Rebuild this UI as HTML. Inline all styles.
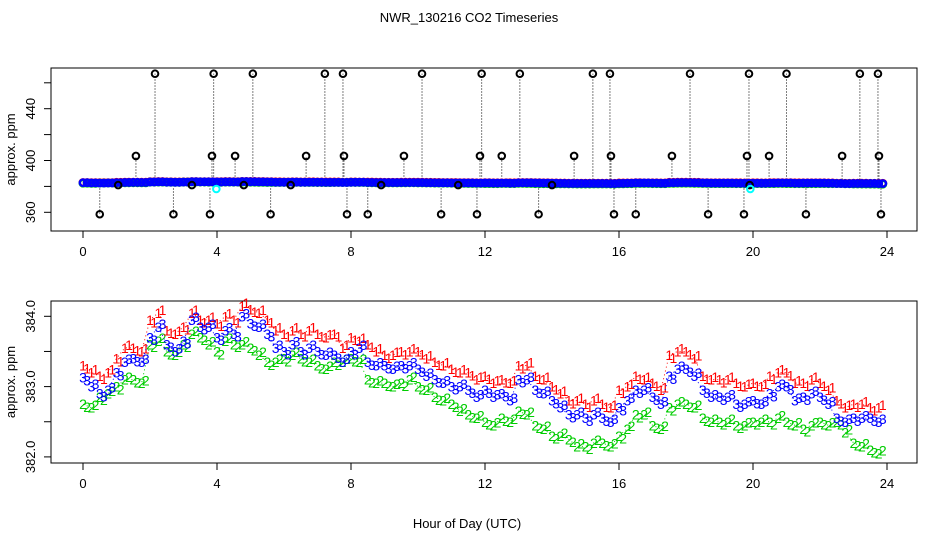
<!DOCTYPE html>
<html><head><meta charset="utf-8"><style>
html,body{margin:0;padding:0;background:#fff}
svg{display:block;font-family:"Liberation Sans",sans-serif}
</style></head><body>
<svg id="chart" width="936" height="540" viewBox="0 0 936 540">
<text x="469" y="22" text-anchor="middle" font-size="13">NWR_130216  CO2 Timeseries</text>
<text x="467" y="528" text-anchor="middle" font-size="13">Hour of Day (UTC)</text>
<g id="topPanel"></g>
<g id="botPanel"></g>
</svg>
<script>
const hours = [];
for (let i = 0; i < 96; i++) hours.push(i * 0.25);
const xTicks = [0, 4, 8, 12, 16, 20, 24];
const series3 = [383.13,383.0,382.9,382.95,383.2,383.35,383.4,383.35,383.7,383.85,383.6,383.5,383.65,383.95,383.85,383.85,383.7,383.8,383.75,384.0,383.9,383.85,383.75,383.55,383.5,383.6,383.5,383.55,383.5,383.45,383.45,383.35,383.5,383.55,383.35,383.3,383.3,383.25,383.3,383.3,383.25,383.15,383.1,383.05,383.0,383.0,382.95,382.85,382.95,382.85,382.9,382.8,383.1,383.1,382.95,382.9,382.8,382.7,382.6,382.6,382.55,382.6,382.55,382.5,382.7,382.8,382.95,382.95,382.85,382.75,383.15,383.25,383.25,383.15,382.95,382.85,382.85,382.85,382.75,382.75,382.8,382.75,382.9,383.0,383.0,382.8,382.85,382.9,382.85,382.75,382.55,382.5,382.55,382.55,382.55,382.5];
const series1 = [383.3,383.2,383.15,383.2,383.4,383.55,383.55,383.5,383.95,384.05,383.8,383.75,383.85,384.05,383.95,383.95,383.9,384.0,383.95,384.15,384.1,384.05,383.95,383.8,383.75,383.8,383.75,383.8,383.75,383.7,383.75,383.55,383.7,383.65,383.6,383.5,383.45,383.45,383.5,383.5,383.5,383.4,383.35,383.3,383.25,383.2,383.2,383.1,383.15,383.05,383.1,383.05,383.3,383.3,383.15,383.1,383.0,382.9,382.8,382.8,382.75,382.8,382.75,382.7,382.95,383.0,383.15,383.1,383.05,382.95,383.45,383.5,383.5,383.4,383.15,383.1,383.1,383.1,383.05,383.0,383.05,383.0,383.15,383.2,383.2,383.05,383.05,383.1,383.05,382.95,382.8,382.7,382.75,382.75,382.7,382.7];
const series2 = [382.75,382.7,382.85,382.9,383.0,383.1,383.1,383.05,383.6,383.65,383.5,383.45,383.6,383.75,383.7,383.6,383.5,383.65,383.6,383.6,383.55,383.45,383.35,383.35,383.4,383.45,383.4,383.35,383.3,383.25,383.35,383.35,383.4,383.35,383.1,383.05,383.05,383.0,383.05,383.1,383.0,382.95,382.85,382.8,382.75,382.65,382.6,382.55,382.5,382.45,382.55,382.5,382.65,382.6,382.45,382.4,382.3,382.3,382.25,382.15,382.15,382.2,382.2,382.15,382.3,382.4,382.6,382.6,382.45,382.4,382.7,382.75,382.75,382.7,382.55,382.5,382.5,382.5,382.45,382.45,382.5,382.5,382.5,382.55,382.5,382.45,382.4,382.45,382.5,382.45,382.5,382.35,382.2,382.15,382.1,382.05];
const outlierHours = [2.15,3.9,5.07,7.22,7.76,10.12,11.9,13.04,15.22,15.73,18.12,19.88,21.0,23.19,23.73,1.58,3.85,4.54,6.66,7.79,9.58,11.85,12.5,14.66,15.76,17.58,19.82,20.48,22.66,23.76,0.5,2.7,3.79,5.6,7.88,8.5,10.69,11.76,13.6,15.85,16.5,18.66,19.73,21.58,23.82,1.05,3.25,4.8,6.2,8.9,11.2,14.0,19.9];
const outlierValues = [467,467,467,467,467,467,467,467,467,467,467,467,467,467,467,403.5,403.5,403.5,403.5,403.5,403.5,403.5,403.5,403.5,403.5,403.5,403.5,403.5,403.5,403.5,358.5,358.5,358.5,358.5,358.5,358.5,358.5,358.5,358.5,358.5,358.5,358.5,358.5,358.5,358.5,381,381,381,381,381,381,381,381];
const topYTicks = [360,380,400,420,440,460];
const topYLabels = ["360","","400","","440",""];
const botYTicks = [382.0,382.5,383.0,383.5,384.0];
const botYLabels = ["382.0","","383.0","","384.0"];

const NS = "http://www.w3.org/2000/svg";
function mk(parent, tag, attrs, text) {
  const e = document.createElementNS(NS, tag);
  for (const k in attrs) e.setAttribute(k, attrs[k]);
  if (text !== undefined) e.textContent = text;
  parent.appendChild(e);
  return e;
}
const xs = h => 83 + h * 33.5;
const yTop = v => 212.3 - (v - 360) * 1.295;
const yBot = v => 316.3 + (384 - v) * 70.3;

function frame(g, y0, y1, yf, ticks, labels, prefix) {
  const box = mk(g, "rect", {x: 51, y: y0, width: 866, height: y1 - y0, fill: "none", stroke: "#000", "stroke-width": 1});
  
  
  xTicks.forEach(t => {
    const l = mk(g, "line", {x1: xs(t), x2: xs(t), y1: y1, y2: y1 + 7, stroke: "#000"});
    
    
    const tx = mk(g, "text", {x: xs(t), y: y1 + 25, "text-anchor": "middle", "font-size": 13}, String(t));
    
    
  });
  ticks.forEach((t, i) => {
    const y = yf(t);
    const l = mk(g, "line", {x1: 44, x2: 51, y1: y, y2: y, stroke: "#000"});
    
    
    if (labels[i]) {
      const tx = mk(g, "text", {x: 0, y: 0, "text-anchor": "middle", "font-size": 13, transform: `translate(35,${y}) rotate(-90)`}, labels[i]);
      
      
    }
  });
  const yt = mk(g, "text", {x: 0, y: 0, "text-anchor": "middle", "font-size": 13, transform: `translate(15,${(y0 + y1) / 2}) rotate(-90)`}, "approx. ppm");
  
  
}

// top panel
const topG = document.getElementById("topPanel");
frame(topG, 68, 231, yTop, topYTicks, topYLabels, "top");
const bandY = yTop(383);
outlierHours.forEach((h, i) => {
  const ln = mk(topG, "line", {x1: xs(h), x2: xs(h), y1: bandY, y2: yTop(outlierValues[i]), stroke: "#000", "stroke-dasharray": "1,2"});
  
  
});
[[series1, "#f00"], [series2, "#0c0"], [series3, "#00f"]].forEach(([s, c]) => {
  hours.forEach((h, i) => {
    if (h > 23.8) return;
    const cc = mk(topG, "circle", {cx: xs(h), cy: yTop(s[i] - 0.3), r: 3.2, fill: "none", stroke: c, "stroke-width": 2.5});
    
    
    const c2 = mk(topG, "circle", {cx: xs(h + 0.125), cy: yTop(s[i] - 0.3), r: 3.2, fill: "none", stroke: c, "stroke-width": 2.5});
    
    
  });
});
outlierHours.forEach((h, i) => {
  const c = mk(topG, "circle", {cx: xs(h), cy: yTop(outlierValues[i]), r: 3.3, fill: "none", stroke: "#000", "stroke-width": 2});
  
  
});
const cy = mk(topG, "circle", {cx: xs(3.98), cy: yTop(378), r: 3.3, fill: "none", stroke: "#0ff", "stroke-width": 2});


const cy2 = mk(topG, "circle", {cx: xs(19.92), cy: yTop(378), r: 3.3, fill: "none", stroke: "#0ff", "stroke-width": 2});



// bottom panel
const botG = document.getElementById("botPanel");
frame(botG, 301, 463, yBot, botYTicks, botYLabels, "bottom");
[[series2, "#0c0", "2", "series-2"], [series1, "#f00", "1", "series-1"], [series3, "#00f", "3", "series-3"]].forEach(([s, c, ch, nm]) => {
  const pts = hours.map((h, i) => xs(h) + "," + yBot(s[i])).join(" ");
  const pl = mk(botG, "polyline", {points: pts, fill: "none", stroke: c, "stroke-width": 1, "stroke-dasharray": "1,3"});
  
  
  hours.forEach((h, i) => {
    [0, 0.125].forEach(off => {
      const t = mk(botG, "text", {x: xs(h + off), y: yBot(s[i] + (off ? (i % 2 ? 0.04 : -0.04) : 0)) + 5, "text-anchor": "middle", "font-size": 14, fill: c}, ch);
      
      
    });
  });
});
</script>
</body></html>
